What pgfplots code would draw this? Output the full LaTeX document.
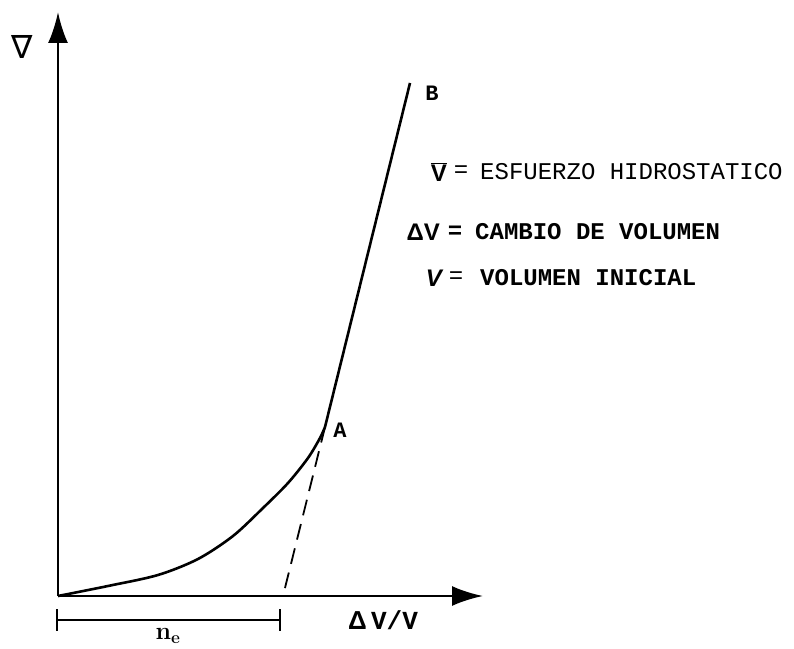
\documentclass[border=0pt]{standalone}
\usepackage{fontspec}
\setmonofont{Liberation Mono}
\newfontfamily\symfont{Liberation Sans}
\newfontfamily\dejavu{DejaVu Sans}
\usepackage{pgfplots}
\pgfplotsset{compat=1.18}
\usetikzlibrary{arrows.meta}
\begin{document}
\begin{tikzpicture}
\begin{axis}[
  scale only axis, width=794pt, height=648pt,
  xmin=-58, xmax=736, ymin=-52, ymax=596,
  hide axis, clip=false,
]
\path (rel axis cs:0,0) rectangle (rel axis cs:1,1);
% axes
\addplot[black, line width=2.6pt, -{Latex[length=31pt,width=20pt]}] coordinates {(0,0) (0,584)};
\addplot[black, line width=2.6pt, -{Latex[length=31pt,width=20pt]}] coordinates {(0,0) (425,0)};
% curve O -> A
\addplot[black, line width=2.6pt, smooth] coordinates {
(0,0) (50,10) (100,21) (140,37) (175,60) (205,88) (230,113) (250,138) (262,158) (267,169)};
% line A -> B
\addplot[black, line width=2.6pt] coordinates {(267,169) (352,513)};
% dashed tangent
\addplot[black, line width=1.8pt, dash pattern=on 16pt off 9pt] coordinates {(267,169) (225,0)};
% bracket n_e
\addplot[black, line width=1.8pt] coordinates {(-1,-24) (222,-24)};
\addplot[black, line width=1.8pt] coordinates {(-1,-13) (-1,-35)};
\addplot[black, line width=1.8pt] coordinates {(222,-13) (222,-35)};
% labels
\node[font=\fontsize{22}{24}\selectfont\ttfamily\bfseries] at (axis cs:374,503) {B};
\node[font=\fontsize{22}{24}\selectfont\ttfamily\bfseries] at (axis cs:282,166) {A};
\node[font=\fontsize{26}{28}\selectfont\ttfamily\bfseries] at (axis cs:325,-24) {{\symfont Δ}\,V/V};
\node[font=\fontsize{26}{28}\selectfont\boldmath] at (axis cs:110,-40) {$\mathbf{n}_{\mathbf{e}}$};
\node[font=\fontsize{32}{34}\selectfont\dejavu] at (axis cs:-36,549) {∇};
% legend
\node[anchor=east, font=\fontsize{24}{26}\selectfont\symfont\bfseries, inner sep=0pt] at (axis cs:389,424) {$\overline{\hbox{V}}$};
\node[font=\fontsize{24}{26}\selectfont\ttfamily, inner sep=0pt] at (axis cs:403,424) {=};
\node[anchor=west, font=\fontsize{24}{26}\selectfont\ttfamily, inner sep=0pt] at (axis cs:422,424) {ESFUERZO HIDROSTATICO};
\node[anchor=east, font=\fontsize{24}{26}\selectfont\symfont\bfseries, inner sep=0pt] at (axis cs:382,364) {ΔV};
\node[font=\fontsize{24}{26}\selectfont\ttfamily\bfseries, inner sep=0pt] at (axis cs:397,364) {=};
\node[anchor=west, font=\fontsize{24}{26}\selectfont\ttfamily\bfseries, inner sep=0pt] at (axis cs:417,364) {CAMBIO DE VOLUMEN};
\node[anchor=east, font=\fontsize{24}{26}\selectfont\symfont\bfseries\itshape, inner sep=0pt] at (axis cs:384,318) {V};
\node[font=\fontsize{24}{26}\selectfont\ttfamily, inner sep=0pt] at (axis cs:398,318) {=};
\node[anchor=west, font=\fontsize{24}{26}\selectfont\ttfamily\bfseries, inner sep=0pt] at (axis cs:422,318) {VOLUMEN INICIAL};
\end{axis}
\end{tikzpicture}
\end{document}
